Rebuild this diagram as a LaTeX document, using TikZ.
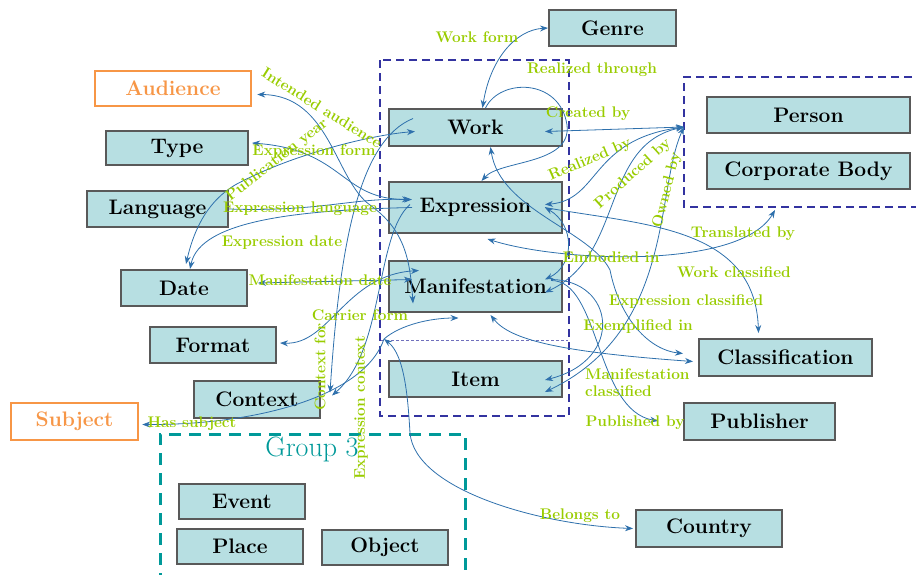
\documentclass[tikz,border=0pt]{standalone}
\usepackage{tikz}
\usetikzlibrary{calc}
\usetikzlibrary{arrows, arrows.meta, shapes}
\usetikzlibrary{positioning}

\definecolor{boxfill}{RGB}{183,223,226}
\definecolor{boxline}{RGB}{89,89,89}
\definecolor{relgreen}{RGB}{153,204,0}
\definecolor{relblue}{RGB}{46,112,172}
\definecolor{audorange}{RGB}{247,150,70}
\definecolor{groupblue}{RGB}{51,51,160}
\definecolor{groupteal}{RGB}{0,153,153}

\begin{document}
\begin{tikzpicture}[
		x=1pt,
		y=-1pt,
		->,
		>={Stealth[length=8pt, width=6pt]},
		node distance=18pt
		]
		\tikzstyle{entity}=[
			rectangle,
			draw=boxline,
			fill=boxfill,
			line width=2pt,
			minimum height=36pt,
			inner sep=0pt,
			font=\fontsize{21}{24}\selectfont\bfseries
		]
		\tikzstyle{wide entity}=[
			entity,
			minimum width=173pt
		]
		\tikzstyle{outside entity}=[
			entity,
			draw=audorange,
			fill=white,
			text=audorange,
			line width=2.5pt
		]
		\tikzstyle{rel}=[
			draw=relblue,
			line width=0.8pt
		]
		\tikzstyle{annot}=[
			text=relgreen,
			font=\fontsize{15.4}{17}\selectfont\bfseries,
			inner sep=0pt
		]
		% Keep the page as large as the original.
			\useasboundingbox (0,0) rectangle (916,574);
		% Draw the dashed group frames.
			\draw[-, groupblue, line width=2pt, dash pattern=on 8pt off 5pt] (380,60) rectangle (569,416);
			\draw[-, groupblue!70, line width=1pt, dash pattern=on 3pt off 2pt] (381,340) -- (568,340);
			\draw[-, groupblue, line width=2pt, dash pattern=on 8pt off 5pt] (925,77) -- (684,77) -- (684,207) -- (925,207);
			\draw[-, groupteal, line width=3pt, dash pattern=on 12pt off 8pt] (160,585) -- (160,434) -- (465,434) -- (465,585);
		% Draw the entities outside the groups.
			\node[entity, minimum width=127pt] (genre) at (612.5,28) {Genre};
			\node[outside entity, minimum width=156pt, minimum height=35pt] (audience) at (173,88.5) {Audience};
			\node[entity, minimum width=142pt, minimum height=34pt] (type) at (177,148) {Type};
			\node[entity, minimum width=141pt] (language) at (157.5,209) {Language};
			\node[entity, minimum width=126pt] (date) at (184,288) {Date};
			\node[entity, minimum width=126pt] (format) at (213,345) {Format};
			\node[entity, minimum width=126pt, minimum height=37pt] (context) at (257,399.5) {Context};
			\node[outside entity, minimum width=127pt, minimum height=37pt] (subject) at (74.5,421.5) {Subject};
			\node[wide entity, minimum height=37pt] (classification) at (785.5,357.5) {Classification};
			\node[entity, minimum width=151pt, minimum height=37pt] (publisher) at (759.5,421) {Publisher};
			\node[entity, minimum width=146pt, minimum height=37pt] (country) at (709,528.5) {Country};
		% Draw the first group.
			\node[wide entity, minimum height=37pt] (work) at (475.5,127.5) {Work};
			\node[wide entity, minimum height=51pt] (expression) at (475.5,207.5) {Expression};
			\node[wide entity, minimum height=51pt] (manifestation) at (475.5,286.5) {Manifestation};
			\node[wide entity] (item) at (475.5,379) {Item};
		% Draw the second group.
			\node[entity, minimum width=203pt] (person) at (808.5,115) {Person};
			\node[entity, minimum width=203pt, below=18pt of person] (corporate) {Corporate Body};
		% Draw the third group.
			\node[text=groupteal, font=\fontsize{28}{30}\selectfont] (group3) at (312,449) {Group 3};
			\foreach \name / \txt / \x / \y in {event/Event/242/501, place/Place/240/546, object/Object/385/547}
				\node[entity, minimum width=126pt, minimum height=35pt] (\name) at (\x,\y) {\txt};
		% Points where the lines meet a group frame.
			\coordinate (grp2) at (684,127);
			\coordinate (grp2 south) at (775,210);
			\coordinate (grp1 split) at (384,339);
		% Connect the first group with the right side.
			\draw[rel, <->] ($(work.north)+(7,0)$) .. controls (490,60) and (515,30) .. (genre.west);
			\draw[rel] ($(work.north)+(10,0)$) .. controls (500,78) and (560,78) .. (567,125) .. controls (572,165) and (500,160) .. ($(expression.north)+(6,0)$);
			\draw[rel, <->] ($(work.east)+(-18,4)$) -- (grp2);
			\draw[rel, <->] ($(expression.east)+(-18,-3)$) .. controls (600,200) and (590,140) .. (grp2);
			\draw[rel, <->] ($(manifestation.east)+(-18,6)$) .. controls (625,255) and (600,145) .. (grp2);
			\draw[rel, <->] (grp2) .. controls (655,190) and (675,330) .. ($(item.east)+(-18,13)$);
			\draw[rel, <->] ($(expression.east)+(-18,0)$) .. controls (575,225) and (575,265) .. ($(manifestation.east)+(-18,-7)$);
			\draw[rel, <->] ($(expression.south)+(12,5)$) .. controls (560,262) and (740,270) .. (grp2 south);
			\draw[rel, <->] ($(work.south)+(15,0)$) .. controls (500,210) and (590,230) .. (610,270) .. controls (620,320) and (650,350) .. ($(classification.west)+(-15,-4)$);
			\draw[rel] ($(expression.east)+(-18,0)$) .. controls (640,225) and (755,225) .. ($(classification.north)+(-27,-5)$);
			\draw[rel, <->] ($(manifestation.south)+(15,2)$) .. controls (510,340) and (560,352) .. ($(classification.west)+(-5,4)$);
			\draw[rel] ($(manifestation.east)+(-12,-7)$) .. controls (615,280) and (625,360) .. ($(item.east)+(-18,1)$);
			\draw[rel] ($(manifestation.east)+(-12,-6)$) .. controls (600,280) and (595,410) .. ($(publisher.west)+(-25,0)$);
			\draw[rel, <->] (grp1 split) .. controls (405,355) and (408,400) .. (410,433) .. controls (415,490) and (540,525) .. ($(country.west)+(-2,0)$);
		% Connect the first group with the left side.
			\draw[rel, <->] ($(audience.east)+(5,6)$) .. controls (330,95) and (335,180) .. (370,205) .. controls (405,230) and (410,260) .. ($(manifestation.west)+(25,17)$);
			\draw[rel, <->] ($(expression.west)+(24,-8)$) .. controls (340,200) and (345,150) .. ($(type.east)+(3,-5)$);
			\draw[rel, <->] ($(date.north)+(2,-5)$) .. controls (195,225) and (210,200) .. (235,185) .. controls (290,155) and (370,135) .. ($(work.west)+(27,4)$);
			\draw[rel] (language.east) .. controls (320,212) and (350,198) .. ($(expression.west)+(22,-8)$);
			\draw[rel] ($(expression.west)+(24,0)$) .. controls (300,210) and (200,220) .. ($(date.north)+(6,0)$);
			\draw[rel, <->] ($(date.east)+(10,-5)$) -- ($(manifestation.west)+(24,-7)$);
			\draw[rel, <->] ($(format.east)+(3,-2)$) .. controls (330,345) and (345,275) .. ($(manifestation.west)+(31,-16)$);
			\draw[rel] ($(work.west)+(25,-9)$) .. controls (360,140) and (340,240) .. ($(context.east)+(9,-7)$);
			\draw[rel] ($(expression.west)+(22,-3)$) .. controls (375,235) and (385,350) .. ($(context.east)+(11,-4)$);
			\draw[rel] (grp1 split) .. controls (365,395) and (260,425) .. ($(subject.east)+(3,3)$);
			\draw[rel] (grp1 split) .. controls (400,325) and (430,318) .. ($(manifestation.south)+(-17,5)$);
		% Write the relation names.
			\node[annot] (l-workform) at (477,37) {Work form};
			\node[annot] (l-realthrough) at (592,70) {Realized through};
			\node[annot] (l-created) at (588,114) {Created by};
			\node[annot, rotate=-32] (l-audience) at (322,108) {Intended audience};
			\node[annot] (l-exform) at (314,152) {Expression form};
			\node[annot, rotate=38] (l-pubyear) at (277,160) {Publication year};
			\node[annot] (l-exlang) at (300,209) {Expression language};
			\node[annot] (l-exdate) at (282,243) {Expression date};
			\node[annot] (l-mandate) at (320,280) {Manifestation date};
			\node[annot] (l-carrier) at (360,315) {Carrier form};
			\node[annot, rotate=90] (l-contextfor) at (320,367) {Context for};
			\node[annot, rotate=90] (l-excontext) at (361,408) {Expression context};
			\node[annot] (l-subject) at (192,424) {Has subject};
			\node[annot, rotate=23] (l-realby) at (590,160) {Realized by};
			\node[annot, rotate=42] (l-produced) at (633,174) {Produced by};
			\node[annot, rotate=76] (l-owned) at (667,190) {Owned by};
			\node[annot] (l-embodied) at (611,257) {Embodied in};
			\node[annot] (l-translated) at (743,234) {Translated by};
			\node[annot] (l-workclass) at (734,272) {Work classified};
			\node[annot] (l-exclass) at (686,302) {Expression classified};
			\node[annot] (l-exemplified) at (638,327) {Exemplified in};
			\node[annot, align=left, anchor=west] (l-manclass) at (585,383) {Manifestation\\classified};
			\node[annot] (l-published) at (635,423) {Published by};
			\node[annot] (l-belongs) at (580,516) {Belongs to};
\end{tikzpicture}
\end{document}
